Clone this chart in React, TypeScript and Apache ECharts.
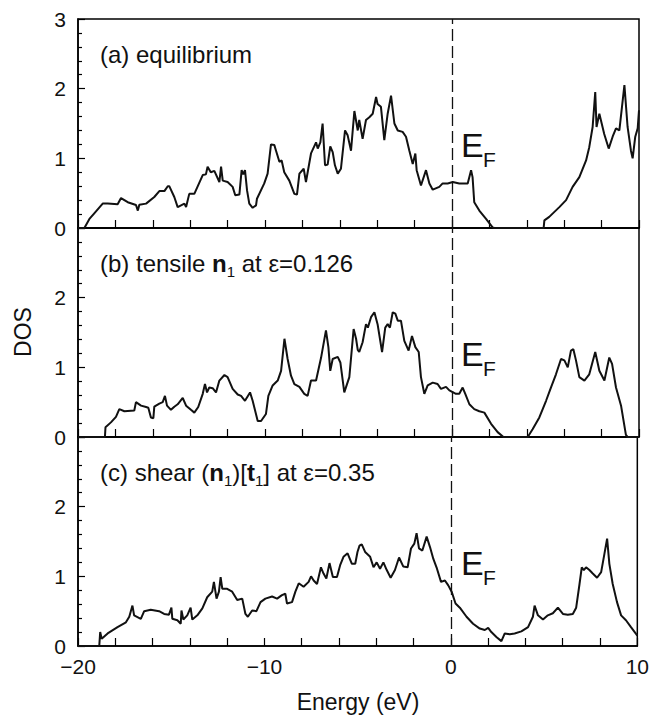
import React, { useEffect, useRef } from "react";
import * as echarts from "echarts";

const FONT = "'Liberation Sans', Arial, Helvetica, sans-serif";

// Energy axis ticks
const xTicks = [-20, -10, 0, 10];
const yTicks = [0, 1, 2, 3];

const panelLabels = [
  "(a) equilibrium",
  "(b) tensile {b|n}{s|1} at ε=0.126",
  "(c) shear ({b|n}{s|1})[{b|t}{s|1}] at ε=0.35",
];

// (a) equilibrium: [energy, DOS]
const dosEquilibrium: number[][] = [
  [-20, 0], [-19.66, 0], [-19.39, 0.13], [-19.13, 0.21], [-18.68, 0.35], [-18.41, 0.35], [-17.88, 0.34], [-17.7, 0.43],
  [-17.34, 0.37], [-16.9, 0.33], [-16.8, 0.25], [-16.72, 0.335], [-16.36, 0.35], [-15.92, 0.445], [-15.65, 0.53],
  [-15.38, 0.53], [-15.2, 0.6], [-15.12, 0.6], [-14.85, 0.445], [-14.67, 0.3], [-14.31, 0.35], [-14.22, 0.3],
  [-14.05, 0.49], [-13.78, 0.49], [-13.33, 0.76], [-13.16, 0.77], [-13.07, 0.88], [-12.9, 0.8], [-12.71, 0.82],
  [-12.44, 0.66], [-12.35, 0.88], [-12.26, 0.68], [-12.0, 0.66], [-11.73, 0.59], [-11.59, 0.47], [-11.37, 0.48],
  [-11.25, 0.83], [-11.16, 0.77], [-11.07, 0.83], [-10.96, 0.54], [-10.84, 0.35], [-10.66, 0.29], [-10.48, 0.325],
  [-10.43, 0.42], [-10.04, 0.64], [-9.86, 0.78], [-9.68, 1.2], [-9.5, 1.19], [-9.41, 1.11], [-9.23, 0.95], [-9.11, 0.97],
  [-8.97, 0.8], [-8.7, 0.68], [-8.43, 0.49], [-8.29, 0.48], [-8.16, 0.78], [-7.93, 0.85], [-7.81, 0.66], [-7.54, 1.07],
  [-7.27, 1.23], [-7.18, 1.14], [-7.04, 1.23], [-6.92, 1.5], [-6.79, 0.9], [-6.65, 0.91], [-6.51, 1.17], [-6.38, 1.09],
  [-6.26, 0.9], [-6.11, 0.78], [-5.94, 0.85], [-5.72, 1.4], [-5.58, 1.33], [-5.4, 1.11], [-5.22, 1.68], [-5.04, 1.4],
  [-4.96, 1.55], [-4.78, 1.28], [-4.6, 1.55], [-4.42, 1.59], [-4.24, 1.64], [-4.06, 1.88], [-3.98, 1.78], [-3.8, 1.74],
  [-3.62, 1.26], [-3.44, 1.64], [-3.26, 1.9], [-3.08, 1.5], [-2.9, 1.4], [-2.64, 1.38], [-2.46, 1.31], [-2.28, 1.11],
  [-2.1, 0.92], [-1.96, 1.07], [-1.89, 0.83], [-1.66, 0.61], [-1.39, 0.83], [-1.21, 0.64], [-1.03, 0.55], [-0.68, 0.59],
  [-0.5, 0.64], [-0.23, 0.64], [0.04, 0.66], [0.39, 0.64], [0.84, 0.64], [1.02, 0.83], [1.1, 0.73], [1.19, 0.37],
  [1.46, 0.25], [1.82, 0.13], [2.17, 0.01], [2.26, 0], [4.9, 0], [4.94, 0.11], [5.2, 0.16], [5.74, 0.3], [6.1, 0.4],
  [6.45, 0.59], [6.81, 0.73], [7.17, 0.97], [7.34, 1.16], [7.52, 1.45], [7.66, 1.95], [7.73, 1.45], [7.88, 1.64],
  [8.14, 1.35], [8.38, 1.14], [8.59, 1.31], [8.77, 1.43], [8.95, 1.4], [9.09, 1.74], [9.22, 2.05], [9.39, 1.45],
  [9.57, 1.11], [9.66, 1.0], [9.8, 1.31], [9.93, 1.43], [10, 1.69],
];

// (b) tensile n1 at 0.126
const dosTensile: number[][] = [
  [-20, 0], [-18.56, 0], [-18.53, 0.14], [-18.24, 0.21], [-17.97, 0.29], [-17.79, 0.4], [-17.52, 0.37], [-16.99, 0.38],
  [-16.9, 0.5], [-16.63, 0.45], [-16.36, 0.43], [-16.24, 0.42], [-16.1, 0.28], [-15.97, 0.27], [-15.92, 0.435],
  [-15.65, 0.48], [-15.47, 0.5], [-15.35, 0.59], [-15.24, 0.45], [-15.03, 0.39], [-14.85, 0.435], [-14.67, 0.47],
  [-14.4, 0.56], [-14.22, 0.45], [-13.96, 0.39], [-13.78, 0.35], [-13.57, 0.43], [-13.33, 0.62], [-13.21, 0.76],
  [-13.1, 0.64], [-12.98, 0.71], [-12.8, 0.7], [-12.62, 0.64], [-12.44, 0.81], [-12.17, 0.89], [-12.0, 0.86],
  [-11.73, 0.69], [-11.46, 0.61], [-11.28, 0.59], [-11.07, 0.52], [-10.8, 0.64], [-10.66, 0.52], [-10.39, 0.23],
  [-10.21, 0.23], [-9.95, 0.33], [-9.82, 0.59], [-9.59, 0.74], [-9.32, 0.81], [-9.14, 0.95], [-8.96, 1.41], [-8.79, 1.12],
  [-8.61, 0.88], [-8.43, 0.76], [-8.16, 0.72], [-7.9, 0.62], [-7.72, 0.59], [-7.54, 0.81], [-7.27, 0.81], [-7.0, 1.14],
  [-6.74, 1.53], [-6.61, 1.29], [-6.51, 0.95], [-6.38, 1.12], [-6.11, 1.15], [-5.97, 1.07], [-5.76, 0.64], [-5.49, 0.86],
  [-5.26, 1.55], [-5.13, 1.41], [-5.04, 1.25], [-4.96, 1.22], [-4.78, 1.36], [-4.6, 1.62], [-4.5, 1.57], [-4.33, 1.72],
  [-4.15, 1.79], [-3.98, 1.62], [-3.74, 1.22], [-3.57, 1.57], [-3.44, 1.62], [-3.32, 1.57], [-3.17, 1.79], [-3.03, 1.77],
  [-2.9, 1.67], [-2.73, 1.67], [-2.55, 1.38], [-2.32, 1.24], [-2.14, 1.45], [-1.96, 1.29], [-1.78, 1.22], [-1.66, 0.86],
  [-1.48, 0.62], [-1.3, 0.74], [-1.03, 0.78], [-0.77, 0.76], [-0.59, 0.69], [-0.32, 0.72], [-0.14, 0.67], [0.21, 0.62],
  [0.39, 0.62], [0.57, 0.71], [0.71, 0.62], [0.93, 0.47], [1.19, 0.4], [1.46, 0.37], [1.73, 0.35], [2.09, 0.19],
  [2.44, 0.07], [2.75, 0], [4.05, 0], [4.31, 0.11], [4.67, 0.28], [5.03, 0.52], [5.29, 0.71], [5.56, 0.9], [5.83, 1.12],
  [6.01, 1.1], [6.19, 1.0], [6.36, 1.24], [6.49, 1.26], [6.63, 1.1], [6.81, 0.86], [7.08, 0.81], [7.34, 0.9],
  [7.66, 1.22], [7.88, 0.95], [8.15, 0.81], [8.41, 1.14], [8.56, 1.05], [8.77, 0.71], [9.04, 0.45], [9.3, 0.03],
  [9.39, 0], [10, 0],
];

// (c) shear (n1)[t1] at 0.35
const dosShear: number[][] = [
  [-20, 0], [-18.86, 0], [-18.81, 0.2], [-18.73, 0.105], [-18.41, 0.18], [-17.88, 0.27], [-17.43, 0.34], [-17.25, 0.42],
  [-17.08, 0.58], [-16.99, 0.44], [-16.63, 0.39], [-16.45, 0.5], [-16.1, 0.52], [-15.65, 0.5], [-15.38, 0.46],
  [-15.12, 0.45], [-14.99, 0.55], [-14.94, 0.39], [-14.67, 0.37], [-14.49, 0.32], [-14.45, 0.51], [-14.35, 0.38],
  [-14.14, 0.44], [-13.96, 0.55], [-13.87, 0.38], [-13.6, 0.44], [-13.33, 0.54], [-13.07, 0.7], [-12.8, 0.78],
  [-12.71, 0.92], [-12.57, 0.68], [-12.44, 0.78], [-12.35, 0.99], [-12.26, 0.82], [-12.0, 0.82], [-11.73, 0.78],
  [-11.46, 0.66], [-11.19, 0.68], [-11.02, 0.46], [-10.89, 0.42], [-10.66, 0.51], [-10.43, 0.5], [-10.21, 0.63],
  [-9.95, 0.68], [-9.59, 0.71], [-9.32, 0.68], [-9.06, 0.73], [-8.88, 0.75], [-8.79, 0.61], [-8.52, 0.63], [-8.34, 0.78],
  [-8.16, 0.9], [-7.9, 0.85], [-7.63, 0.92], [-7.5, 1.0], [-7.36, 0.94], [-7.18, 0.89], [-6.97, 1.13], [-6.83, 1.04],
  [-6.68, 0.97], [-6.51, 1.19], [-6.33, 0.99], [-6.11, 0.99], [-5.94, 1.16], [-5.76, 1.28], [-5.54, 1.33], [-5.31, 1.18],
  [-5.13, 1.18], [-5.01, 1.35], [-4.9, 1.44], [-4.78, 1.46], [-4.6, 1.35], [-4.33, 1.28], [-4.15, 1.13], [-3.98, 1.2],
  [-3.8, 1.11], [-3.62, 1.2], [-3.44, 1.09], [-3.23, 0.98], [-3.0, 1.09], [-2.78, 1.27], [-2.55, 1.14], [-2.32, 1.13],
  [-2.14, 1.4], [-1.96, 1.47], [-1.84, 1.62], [-1.71, 1.4], [-1.53, 1.37], [-1.3, 1.57], [-1.12, 1.42], [-0.94, 1.25],
  [-0.77, 1.13], [-0.53, 0.92], [-0.32, 0.94], [-0.14, 0.87], [0.04, 0.78], [0.25, 0.61], [0.48, 0.55], [0.84, 0.42],
  [1.19, 0.32], [1.55, 0.25], [1.82, 0.23], [2.0, 0.26], [2.17, 0.2], [2.44, 0.13], [2.71, 0.07], [2.89, 0.18],
  [3.16, 0.17], [3.42, 0.18], [3.78, 0.21], [4.14, 0.27], [4.4, 0.42], [4.49, 0.58], [4.67, 0.44], [4.94, 0.38],
  [5.2, 0.44], [5.47, 0.47], [5.74, 0.55], [6.01, 0.46], [6.27, 0.45], [6.54, 0.46], [6.72, 0.55], [6.9, 0.89],
  [7.02, 1.13], [7.13, 1.09], [7.25, 1.13], [7.43, 1.09], [7.61, 1.04], [7.84, 0.98], [8.06, 1.06], [8.24, 1.33],
  [8.38, 1.54], [8.5, 1.18], [8.68, 0.89], [8.91, 0.63], [9.13, 0.44], [9.39, 0.37], [9.66, 0.27], [10, 0.15],
];

const panels = [dosEquilibrium, dosTensile, dosShear];

export default function App() {
  const ref = useRef<HTMLDivElement>(null);
  useEffect(() => {
    const chart = echarts.init(ref.current!, null, { renderer: "svg" });
    const tops = [19, 228, 437];
    const H = 209;
    const ink = "#111";
    const grid = tops.map((t) => ({
      left: 78,
      right: 13,
      top: t,
      height: H,
      show: true,
      borderColor: "#000",
      borderWidth: 1.5,
      backgroundColor: "transparent",
    }));
    const xAxis = tops.map((_, i) => ({
      gridIndex: i,
      type: "value",
      min: xTicks[0],
      max: xTicks[xTicks.length - 1],
      interval: 10,
      axisLine: { show: true, onZero: false, lineStyle: { color: "#000", width: 1.5 } },
      axisTick: { show: true, inside: true, length: 8, lineStyle: { color: "#000", width: 1.2 } },
      minorTick: { show: true, splitNumber: 5, length: 8, lineStyle: { color: "#000", width: 1.2 } },
      splitLine: { show: false },
      minorSplitLine: { show: false },
      axisLabel: {
        show: i === 2,
        fontSize: 21,
        fontFamily: FONT,
        color: ink,
        margin: 10,
        formatter: (v: number) => (v < 0 ? "\u2212" + Math.abs(v) : String(v)),
      },
    }));
    const yAxis = tops.map((_, i) => ({
      gridIndex: i,
      type: "value",
      min: yTicks[0],
      max: yTicks[yTicks.length - 1],
      interval: 1,
      axisLine: { show: true, onZero: false, lineStyle: { color: "#000", width: 1.5 } },
      axisTick: { show: true, inside: true, length: 7, lineStyle: { color: "#000", width: 1.2 } },
      minorTick: { show: true, splitNumber: 5, length: 4, lineStyle: { color: "#000", width: 1.2 } },
      splitLine: { show: false },
      minorSplitLine: { show: false },
      axisLabel: {
        fontSize: 21,
        fontFamily: FONT,
        color: ink,
        margin: 12,
        formatter: (v: number) => (i > 0 && v === 3 ? "" : String(v)),
      },
    }));
    const series = panels.map((d, i) => ({
      type: "line",
      xAxisIndex: i,
      yAxisIndex: i,
      data: d,
      showSymbol: false,
      symbol: "none",
      lineStyle: { color: ink, width: 2 },
      markLine: {
        silent: true,
        symbol: ["none", "none"],
        label: { show: false },
        lineStyle: { color: ink, width: 1.3, type: [12, 5] },
        data: [{ xAxis: 0 }],
      },
    }));
    const graphic: any[] = [];
    tops.forEach((t, i) => {
      graphic.push({
        type: "text",
        x: 100,
        y: t + 44 - 23.4,
        style: {
          text: panelLabels[i],
          fontSize: 24,
          fontFamily: FONT,
          fill: ink,
          lineHeight: 30,
          align: "left",
          verticalAlign: "top",
          rich: {
            b: { fontSize: 24, fontWeight: "bold", fontFamily: FONT, lineHeight: 30, fill: ink },
            s: { fontSize: 15, fontFamily: FONT, lineHeight: 10, verticalAlign: "bottom", fill: ink },
          },
        },
      });
      graphic.push({
        type: "text",
        x: 461,
        y: t + 138 - 12,
        style: { text: "E", fontSize: 34, fontFamily: FONT, fill: ink, align: "left", verticalAlign: "middle" },
      });
      graphic.push({
        type: "text",
        x: 483,
        y: t + 148 - 7.4,
        style: { text: "F", fontSize: 21, fontFamily: FONT, fill: ink, align: "left", verticalAlign: "middle" },
      });
    });
    graphic.push({
      type: "text",
      x: 23,
      y: 332,
      rotation: Math.PI / 2,
      style: { text: "DOS", fontSize: 23, fontFamily: FONT, fill: ink, align: "center", verticalAlign: "middle" },
    });
    graphic.push({
      type: "text",
      x: 358,
      y: 702,
      style: { text: "Energy (eV)", fontSize: 23, fontFamily: FONT, fill: ink, align: "center", verticalAlign: "middle" },
    });
    chart.setOption({
      animation: false,
      backgroundColor: "#fff",
      grid,
      xAxis,
      yAxis,
      series,
      graphic,
    } as any);
    return () => chart.dispose();
  }, []);
  return <div ref={ref} style={{ position: "absolute", left: 0, top: 0, width: 652, height: 719 }} />;
}
